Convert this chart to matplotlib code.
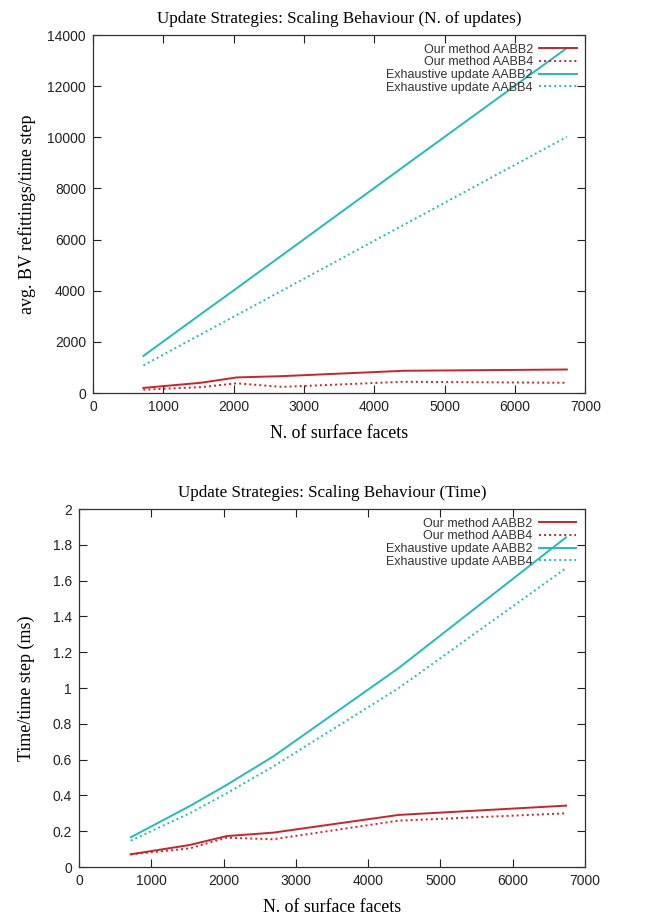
import matplotlib
matplotlib.use("Agg")
import matplotlib.pyplot as plt

# number of surface facets (x values, shared by both plots)
facets = [716, 1530, 2044, 2684, 4420, 6738]

# top plot: avg. BV refittings per time step
upd_ours_aabb2 = [200, 400, 610, 660, 870, 920]
upd_ours_aabb4 = [130, 230, 380, 240, 440, 400]
upd_exh_aabb2 = [1450, 3080, 4100, 5380, 8860, 13490]
upd_exh_aabb4 = [1080, 2290, 3050, 4000, 6580, 10020]

# bottom plot: time per time step (ms)
time_ours_aabb2 = [0.071, 0.123, 0.173, 0.192, 0.291, 0.343]
time_ours_aabb4 = [0.071, 0.104, 0.164, 0.155, 0.259, 0.300]
time_exh_aabb2 = [0.166, 0.340, 0.459, 0.617, 1.111, 1.842]
time_exh_aabb4 = [0.147, 0.300, 0.412, 0.561, 0.999, 1.670]

labels = ["Our method AABB2", "Our method AABB4",
          "Exhaustive update AABB2", "Exhaustive update AABB4"]

RED = "#cc2229"
CYAN = "#1fbcc0"
DOT = (0, (1, 1.6))
SERIF = "Liberation Serif"
SANS = "Liberation Sans"

plt.rcParams["font.family"] = SANS


def draw(ax, series, title, ylabel, yticks, ypad):
    styles = [(RED, "-"), (RED, DOT), (CYAN, "-"), (CYAN, DOT)]
    for vals, (c, ls), lab in zip(series, styles, labels):
        ax.plot(facets, vals, color=c, linestyle=ls, linewidth=1.4, label=lab)
    ax.set_xlim(0, 7000)
    ax.set_ylim(yticks[0], yticks[-1])
    ax.set_xticks(range(0, 7001, 1000))
    ax.set_yticks(yticks)
    ax.tick_params(direction="in", top=True, right=True, length=6,
                   width=0.8, labelsize=10, pad=5, colors="#222222")
    for s in ax.spines.values():
        s.set_linewidth(0.9)
        s.set_color("#333333")
    ax.set_title(title, fontfamily=SERIF, fontsize=12.3, pad=9)
    ax.set_xlabel("N. of surface facets", fontfamily=SERIF, fontsize=12.8, labelpad=8)
    ax.set_ylabel(ylabel, fontfamily=SERIF, fontsize=13, labelpad=ypad)
    leg = ax.legend(loc="upper right", frameon=False, markerfirst=False,
                    fontsize=9, handlelength=3.0, handletextpad=0.5,
                    labelspacing=0.05, borderaxespad=0.3)
    for t in leg.get_texts():
        t.set_color("#333333")


fig = plt.figure(figsize=(6.46, 9.17), dpi=100)
ax1 = fig.add_axes([0.144, 0.5714, 0.762, 0.3904])
ax2 = fig.add_axes([0.1223, 0.0545, 0.7833, 0.3904])

draw(ax1, [upd_ours_aabb2, upd_ours_aabb4, upd_exh_aabb2, upd_exh_aabb4],
     "Update Strategies: Scaling Behaviour (N. of updates)",
     "avg. BV refittings/time step", list(range(0, 14001, 2000)), 8)
draw(ax2, [time_ours_aabb2, time_ours_aabb4, time_exh_aabb2, time_exh_aabb4],
     "Update Strategies: Scaling Behaviour (Time)",
     "Time/time step (ms)", [round(0.2 * i, 1) for i in range(11)], 13)
ax2.set_yticklabels(["0", "0.2", "0.4", "0.6", "0.8", "1", "1.2", "1.4",
                     "1.6", "1.8", "2"])

fig.savefig("out.png", dpi=100)
